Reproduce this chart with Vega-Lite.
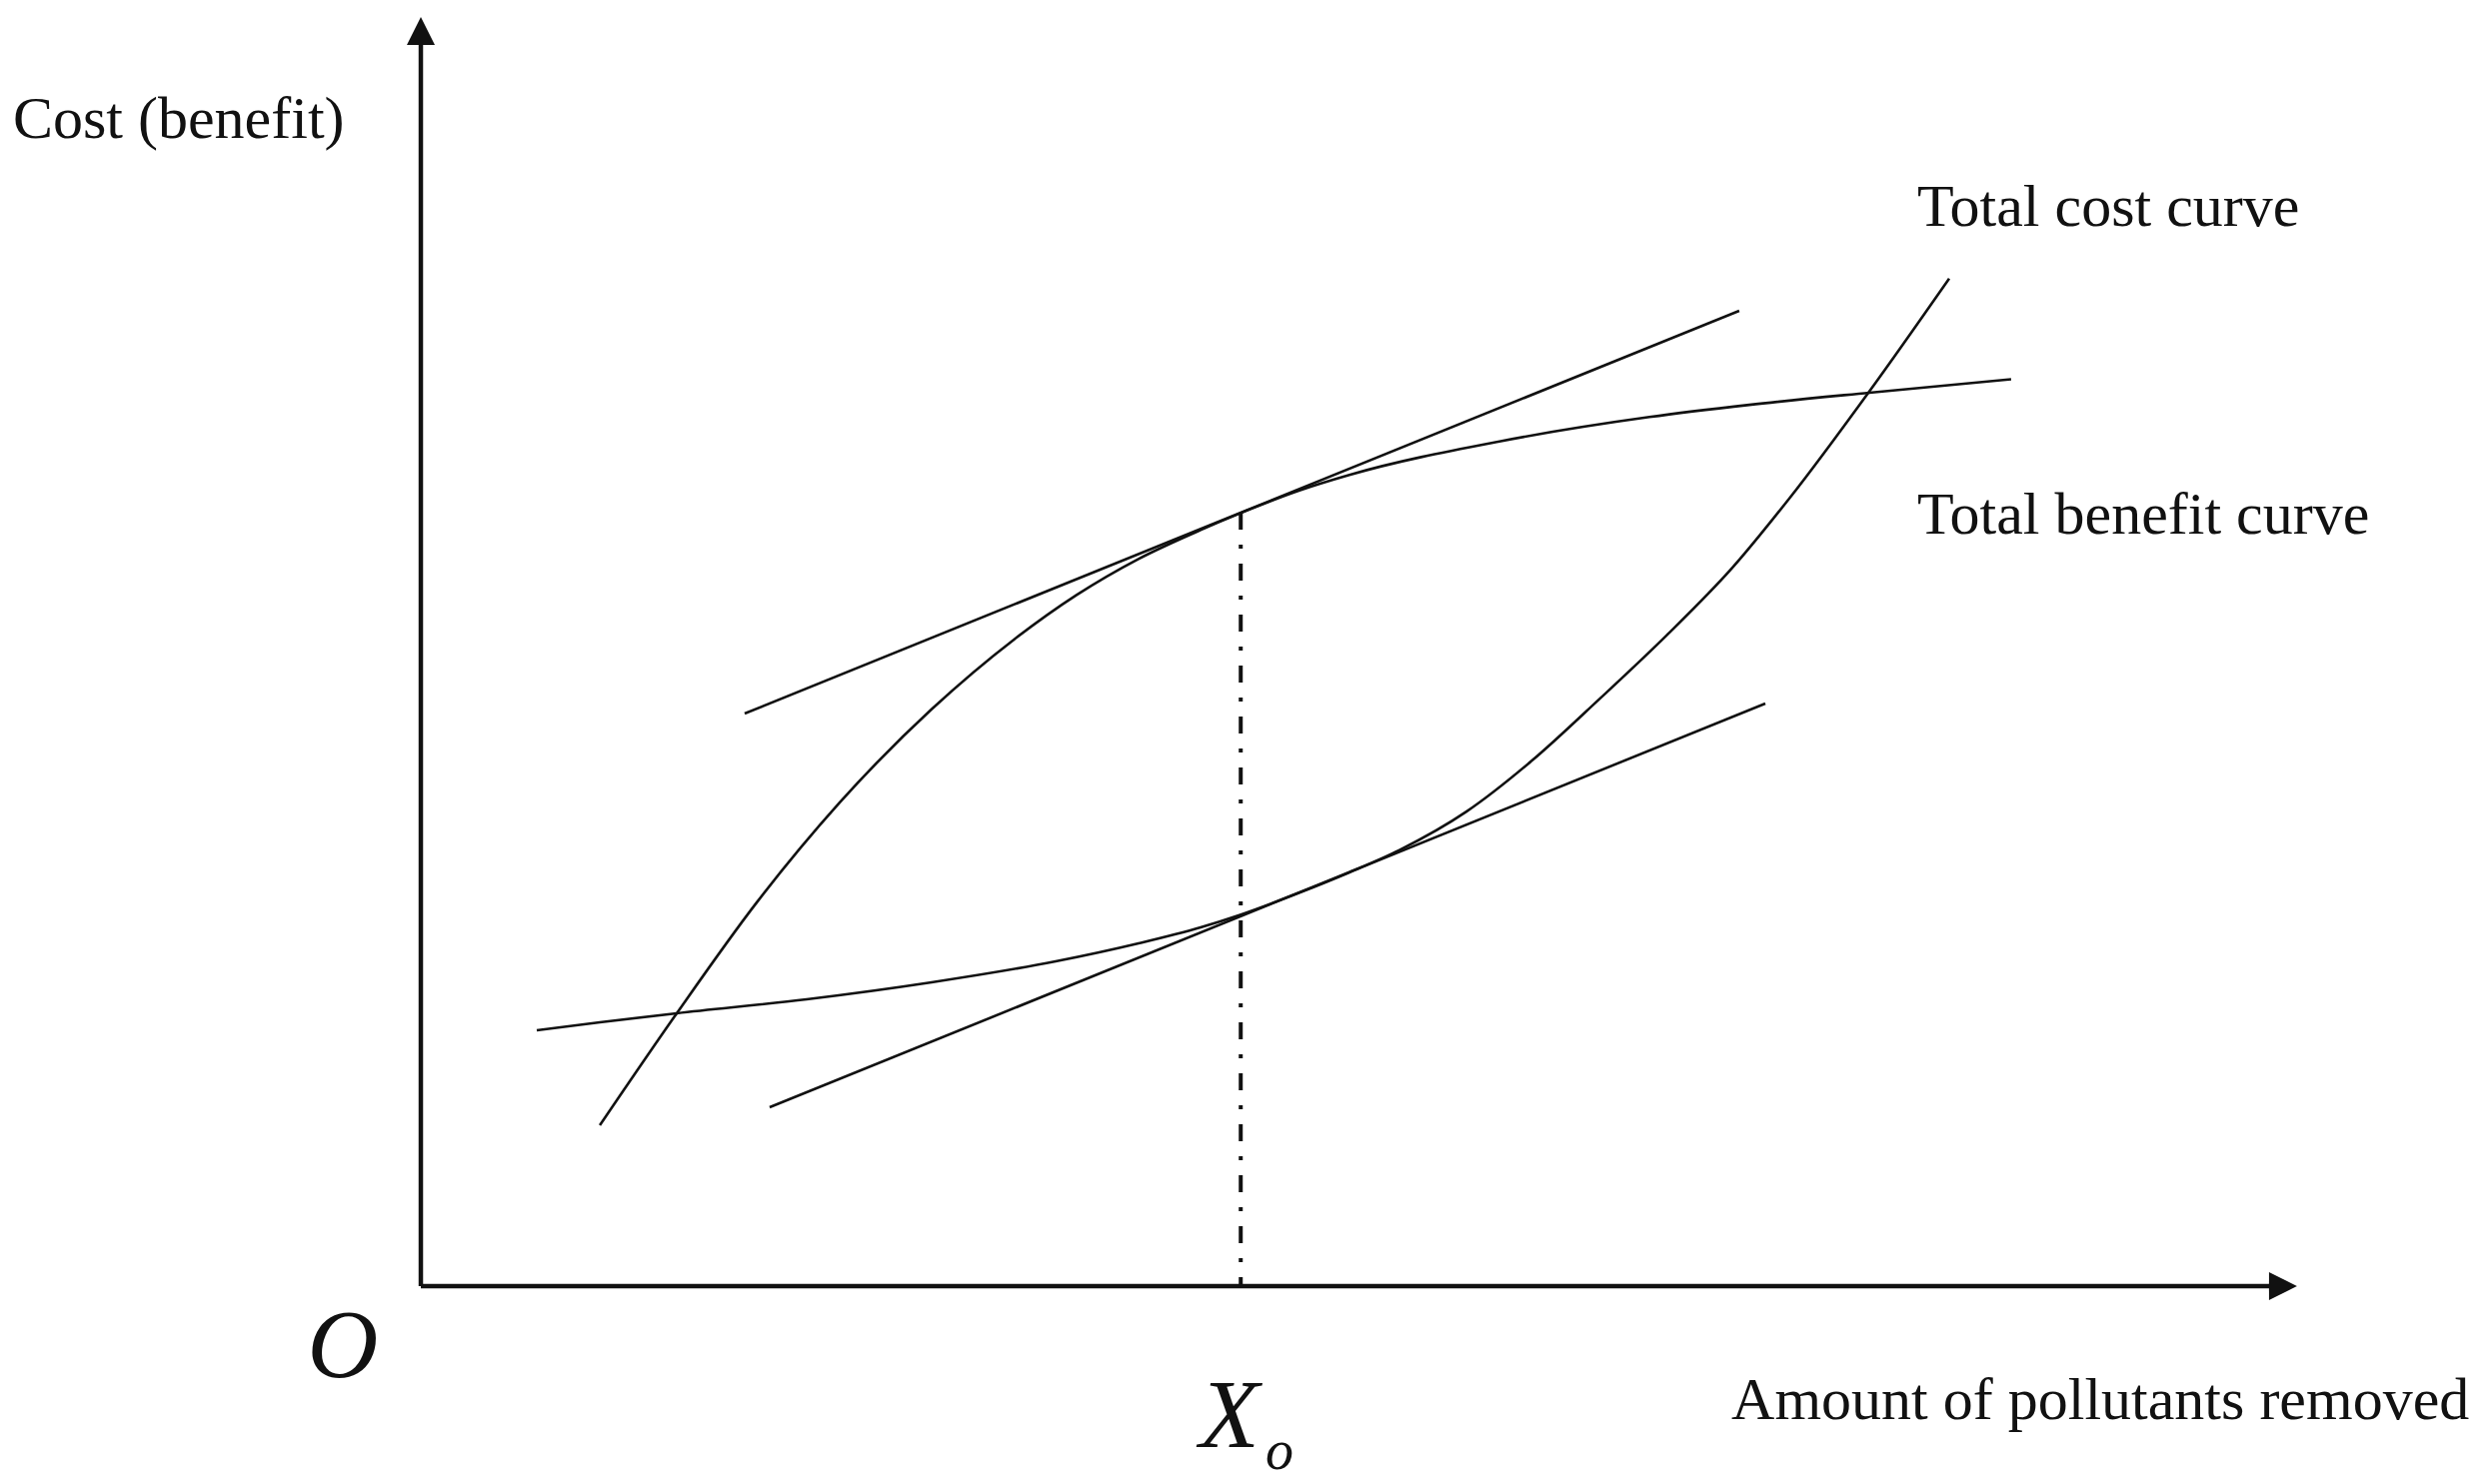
{
  "$schema": "https://vega.github.io/schema/vega-lite/v6.json",
  "width": 2490,
  "height": 1485,
  "autosize": {"type": "fit", "contains": "padding"},
  "padding": 0,
  "background": "white",
  "config": {"view": {"stroke": null}},
  "datasets": {
    "curves": [
      {"series": "benefit", "x": 9.54, "y": 12.68},
      {"series": "benefit", "x": 13.64, "y": 21.5},
      {"series": "benefit", "x": 17.9, "y": 30.23},
      {"series": "benefit", "x": 22.32, "y": 38.1},
      {"series": "benefit", "x": 27.22, "y": 45.45},
      {"series": "benefit", "x": 31.65, "y": 50.99},
      {"series": "benefit", "x": 34.95, "y": 54.46},
      {"series": "benefit", "x": 38.25, "y": 57.3},
      {"series": "benefit", "x": 41.56, "y": 59.58},
      {"series": "benefit", "x": 43.63, "y": 60.88},
      {"series": "benefit", "x": 46.83, "y": 62.7},
      {"series": "benefit", "x": 49.49, "y": 63.92},
      {"series": "benefit", "x": 57.49, "y": 66.56},
      {"series": "benefit", "x": 65.48, "y": 68.48},
      {"series": "benefit", "x": 70.8, "y": 69.44},
      {"series": "benefit", "x": 77.2, "y": 70.4},
      {"series": "benefit", "x": 84.76, "y": 71.46},
      {"series": "cost", "x": 6.18, "y": 20.16},
      {"series": "cost", "x": 9.54, "y": 20.79},
      {"series": "cost", "x": 13.64, "y": 21.5},
      {"series": "cost", "x": 20.56, "y": 22.6},
      {"series": "cost", "x": 27.22, "y": 23.94},
      {"series": "cost", "x": 33.83, "y": 25.59},
      {"series": "cost", "x": 38.25, "y": 27.01},
      {"series": "cost", "x": 41.56, "y": 28.27},
      {"series": "cost", "x": 43.63, "y": 29.24},
      {"series": "cost", "x": 46.83, "y": 31.0},
      {"series": "cost", "x": 49.49, "y": 32.6},
      {"series": "cost", "x": 52.16, "y": 34.36},
      {"series": "cost", "x": 55.73, "y": 37.39},
      {"series": "cost", "x": 59.24, "y": 41.43},
      {"series": "cost", "x": 62.81, "y": 46.25},
      {"series": "cost", "x": 66.38, "y": 51.25},
      {"series": "cost", "x": 69.9, "y": 56.6},
      {"series": "cost", "x": 72.94, "y": 62.07},
      {"series": "cost", "x": 77.2, "y": 70.5},
      {"series": "cost", "x": 81.46, "y": 79.4},
      {"series": "upper tangent", "x": 17.26, "y": 45.12},
      {"series": "upper tangent", "x": 70.27, "y": 76.85},
      {"series": "lower tangent", "x": 18.59, "y": 14.09},
      {"series": "lower tangent", "x": 71.66, "y": 45.91}
    ],
    "axes": [
      {"axis": "x", "x": 0, "y": 0, "x2": 99.25, "y2": 0},
      {"axis": "y", "x": 0, "y": 0, "x2": 0, "y2": 98.9}
    ],
    "arrows": [
      {"axis": "x", "x": 99.25, "y": 0},
      {"axis": "y", "x": 0, "y": 98.9}
    ],
    "xo": [
      {"x": 43.7, "y": 60.94, "x2": 43.7, "y2": 0}
    ],
    "labels": [
      {"label": "Cost (benefit)", "x": -21.74, "y": 90.47},
      {"label": "Total cost curve", "x": 79.76, "y": 83.54},
      {"label": "Total benefit curve", "x": 79.76, "y": 59.29},
      {"label": "Amount of pollutants removed", "x": 69.85, "y": -10.47}
    ],
    "symbols": [
      {"label": "O", "x": -4.16, "y": -7.17},
      {"label": "X", "x": 43.1, "y": -12.68}
    ],
    "subscripts": [
      {"label": "o", "x": 45.76, "y": -14.41}
    ]
  },
  "encoding": {
    "x": {"field": "x", "type": "quantitative", "scale": {"domain": [-22.43, 110.23], "nice": false, "zero": false}, "axis": null},
    "y": {"field": "y", "type": "quantitative", "scale": {"domain": [-15.59, 101.34], "nice": false, "zero": false}, "axis": null}
  },
  "layer": [
    {
      "data": {"name": "curves"},
      "mark": {"type": "line", "color": "#111", "strokeWidth": 2.6, "interpolate": "monotone"},
      "encoding": {"detail": {"field": "series", "type": "nominal"}}
    },
    {
      "data": {"name": "xo"},
      "mark": {"type": "rule", "color": "#111", "strokeWidth": 4, "strokeDash": [17, 15, 4, 15]},
      "encoding": {"x2": {"field": "x2"}, "y2": {"field": "y2"}}
    },
    {
      "data": {"name": "axes"},
      "mark": {"type": "rule", "color": "#111", "strokeWidth": 4.5},
      "encoding": {"x2": {"field": "x2"}, "y2": {"field": "y2"}}
    },
    {
      "data": {"name": "arrows"},
      "transform": [{"filter": "datum.axis === 'x'"}],
      "mark": {"type": "point", "shape": "M1,0L-1,-1L-1,1Z", "size": 784, "filled": true, "color": "#111", "opacity": 1}
    },
    {
      "data": {"name": "arrows"},
      "transform": [{"filter": "datum.axis === 'y'"}],
      "mark": {"type": "point", "shape": "M0,-1L1,1L-1,1Z", "size": 784, "filled": true, "color": "#111", "opacity": 1}
    },
    {
      "data": {"name": "labels"},
      "mark": {"type": "text", "font": "Liberation Serif", "fontSize": 60, "align": "left", "baseline": "alphabetic", "color": "#111"},
      "encoding": {"text": {"field": "label"}}
    },
    {
      "data": {"name": "symbols"},
      "mark": {"type": "text", "font": "Liberation Serif", "fontStyle": "italic", "fontSize": 98, "align": "center", "baseline": "alphabetic", "color": "#111"},
      "encoding": {"text": {"field": "label"}}
    },
    {
      "data": {"name": "subscripts"},
      "mark": {"type": "text", "font": "Liberation Serif", "fontStyle": "italic", "fontSize": 56, "align": "center", "baseline": "alphabetic", "color": "#111"},
      "encoding": {"text": {"field": "label"}}
    }
  ]
}
